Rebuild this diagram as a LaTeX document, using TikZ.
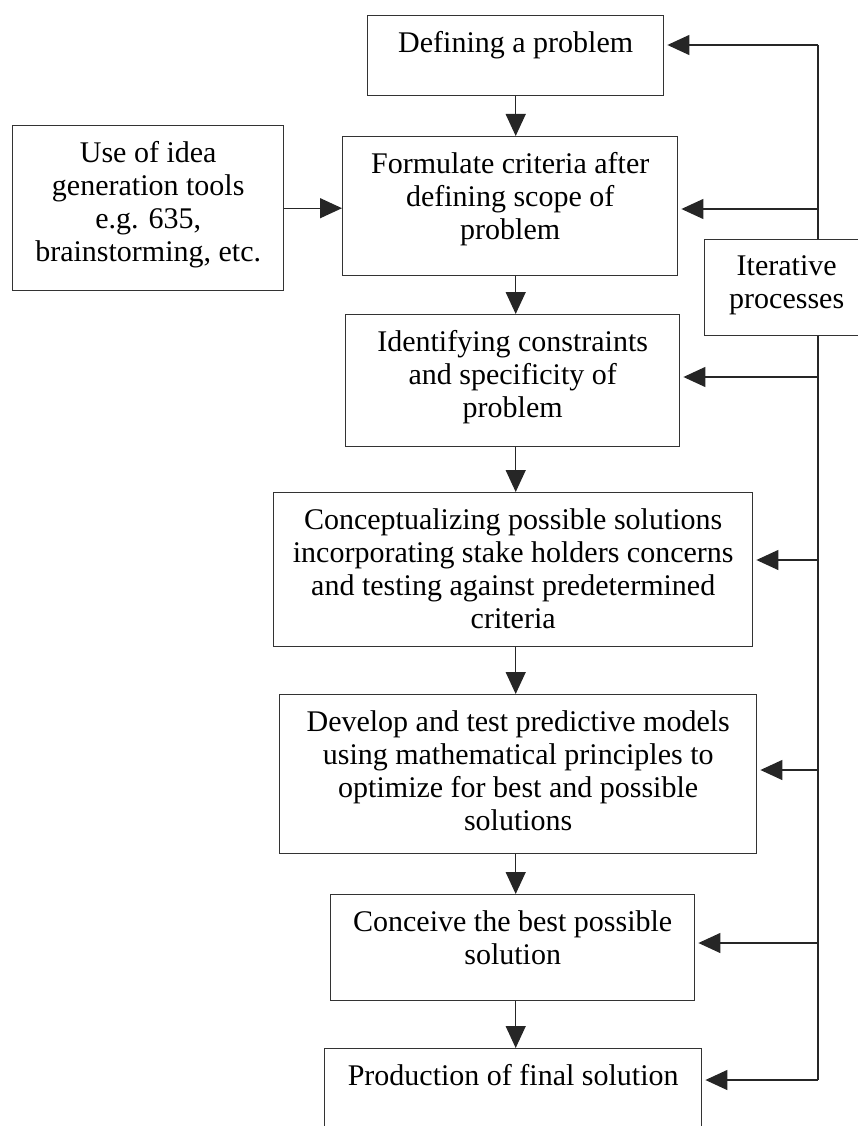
\documentclass[tikz,border=0pt]{standalone}
\usepackage{fontspec}
\setmainfont{Liberation Serif}
\usetikzlibrary{arrows.meta}
\newcommand{\stagetext}[3]{\parbox[c][#2][t]{#1}{\centering #3}}
\begin{document}
\begin{tikzpicture}[x=1pt,y=-1pt,
  every node/.style={font=\fontsize{30}{33}\selectfont},
  stage/.style={draw=black!80,line width=1.4pt,fill=white,anchor=north west,inner xsep=0pt,inner ysep=16pt},
  flow/.style={draw=black!85,line width=1.3pt,-{Triangle[length=22pt,width=20pt]}},
  rail/.style={draw=black!85,line width=1.3pt}]
\useasboundingbox (0,0) rectangle (858,1126); \clip (0,0) rectangle (858,1126);
\node[stage] (define) at (367,15) {\stagetext{296pt}{48pt}{Defining a problem}};
\node[stage] (formulate) at (342,136) {\stagetext{335pt}{107pt}{Formulate criteria after\\ defining scope of\\ problem}};
\node[stage] (ideas) at (12,125) {\stagetext{271pt}{133pt}{Use of idea\\ generation tools\\ e.g. 635,\\ brainstorming, etc.}};
\node[stage] (iter) at (704,239) {\stagetext{164pt}{64pt}{Iterative\\ processes}};
\node[stage] (identify) at (345,314) {\stagetext{334pt}{100pt}{Identifying constraints\\ and specificity of\\ problem}};
\node[stage] (concept) at (273,492) {\stagetext{479pt}{122pt}{Conceptualizing possible solutions\\ incorporating stake holders concerns\\ and testing against predetermined\\ criteria}};
\node[stage] (develop) at (279,694) {\stagetext{477pt}{127pt}{Develop and test predictive models\\ using mathematical principles to\\ optimize for best and possible\\ solutions}};
\node[stage] (conceive) at (330,894) {\stagetext{364pt}{74pt}{Conceive the best possible\\ solution}};
\node[stage] (produce) at (324,1048) {\stagetext{377pt}{100pt}{Production of final solution}};
\draw[flow] (define.south) -- (define.south |- formulate.north);
\draw[flow] (define.south |- formulate.south) -- (define.south |- identify.north);
\draw[flow] (define.south |- identify.south) -- (define.south |- concept.north);
\draw[flow] (define.south |- concept.south) -- (define.south |- develop.north);
\draw[flow] (define.south |- develop.south) -- (define.south |- conceive.north);
\draw[flow] (define.south |- conceive.south) -- (define.south |- produce.north);
\draw[flow] (ideas.east) -- (ideas.east -| formulate.west);
\coordinate (railtop) at (818,45); \coordinate (railend) at (818,1080);
\draw[rail] (railtop) -- (railtop |- iter.north); \draw[rail] (iter.south -| railtop) -- (railend);
\foreach \y/\n in {45/define,209/formulate,377/identify,560/concept,770/develop,943/conceive,1080/produce}{
  \coordinate (r) at (818,\y);
  \draw[flow,shorten >=3pt] (r) -- (r -| \n.east);}
\end{tikzpicture}
\end{document}
